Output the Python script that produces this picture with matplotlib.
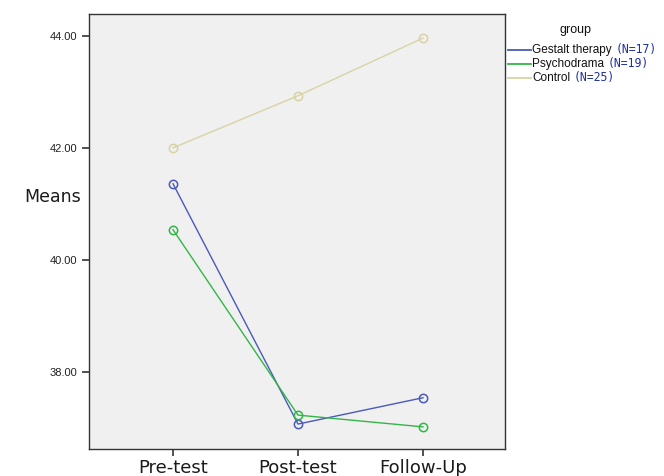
import matplotlib
matplotlib.use("Agg")
import matplotlib.pyplot as plt
from matplotlib.lines import Line2D

categories = ["Pre-test", "Post-test", "Follow-Up"]
groups = ["Gestalt therapy", "Psychodrama", "Control"]
group_n = ["(N=17)", "(N=19)", "(N=25)"]
gestalt = [41.36, 37.07, 37.54]
psychodrama = [40.54, 37.23, 37.02]
control = [42.00, 42.93, 43.96]
yticks = [38.0, 40.0, 42.0, 44.0]

series = [gestalt, psychodrama, control]
colors = ["#4a5ab8", "#33b548", "#d9d3a3"]

W, H = 664, 476
fig = plt.figure(figsize=(W / 100, H / 100), dpi=100)
ax = fig.add_axes([89 / W, 1 - 449 / H, (505 - 89) / W, (449 - 14) / H])
ax.set_facecolor("#f0f0f0")

x = list(range(len(categories)))
for vals, c in zip(series, colors):
    ax.plot(x, vals, color=c, lw=1.0, marker="o", ms=6, mfc="none", mec=c, mew=1.1)

ax.set_xlim(-0.672, 2.656)
ax.set_ylim(36.625, 44.39)
ax.set_xticks(x)
ax.set_xticklabels(categories, fontsize=13, color="#1a1a1a")
ax.set_yticks(yticks)
ax.set_yticklabels([f"{v:.2f}" for v in yticks], fontsize=8, color="#222222",
                   family="Liberation Sans")
ax.tick_params(axis="both", length=5, width=1.2, color="#333333")
ax.tick_params(axis="x", pad=2)
for s in ax.spines.values():
    s.set_color("#333333")
    s.set_linewidth(1.0)

fig.text(24 / W, 1 - 197 / H, "Means", fontsize=12.5, color="#1a1a1a", va="center", ha="left")

# legend
fig.text(576 / W, 1 - 30 / H, "group", fontsize=9, ha="center", va="center",
         color="#111111", family="Liberation Sans")
rows_y = [50, 64, 78]
for name, n, c, yy in zip(groups, group_n, colors, rows_y):
    fy = 1 - yy / H
    fig.add_artist(Line2D([508 / W, 531 / W], [fy, fy], color=c, lw=1.3))
    t = fig.text(532 / W, fy, name, fontsize=8.5, ha="left", va="center",
                 color="#111111", family="Liberation Sans")
    fig.canvas.draw()
    bb = t.get_window_extent()
    fig.text(bb.x1 / W + 4 / W, fy, n, fontsize=8.3, ha="left", va="center",
             color="#1e2fa0", family="DejaVu Sans Mono")

fig.savefig("out.png", dpi=100)
